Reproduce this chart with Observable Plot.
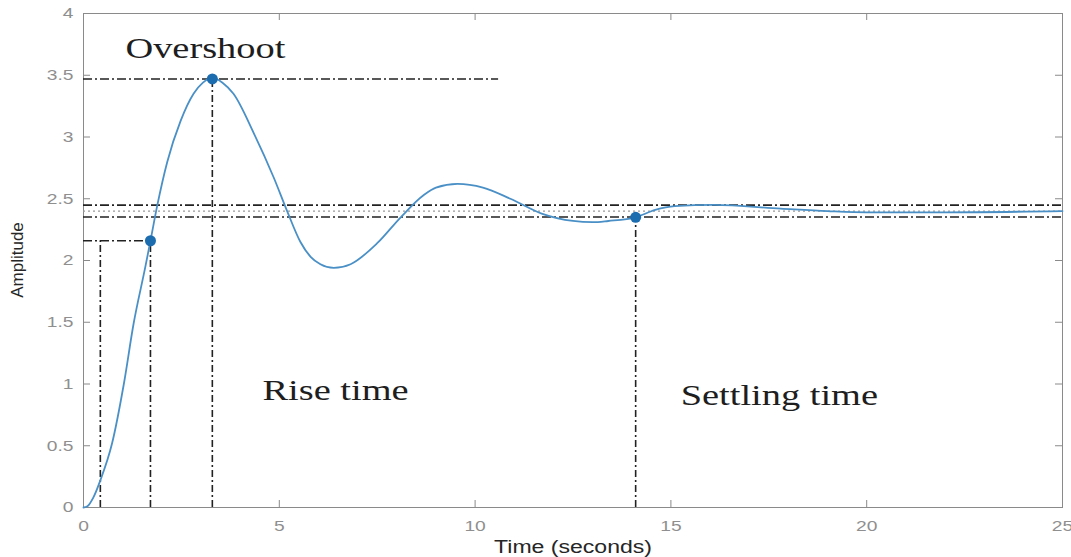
<!DOCTYPE html>
<html><head><meta charset="utf-8">
<script src="https://cdn.jsdelivr.net/npm/d3@7"></script>
<script src="https://cdn.jsdelivr.net/npm/@observablehq/plot@0.6"></script>
<style>body{margin:0;background:#fff}</style>
</head><body><div id="chart"></div>
<script>
// Step response samples
const time =      [0, 0.1, 0.25, 0.43, 0.73, 1.03, 1.28, 1.58, 1.71, 1.88, 2.14, 2.48, 2.81, 3.05, 3.29, 3.55, 3.83, 4.35, 4.86, 5.2, 5.54, 5.8, 6.05, 6.39, 6.82, 7.5, 8.1, 8.69, 9.0, 9.55, 10.2, 10.9, 11.7, 12.5, 13.0, 13.4, 14.1, 14.6, 15.1, 16.1, 17.8, 19, 20, 22, 25];
const amplitude = [0, 0.01, 0.08, 0.22, 0.52, 1.0, 1.49, 1.95, 2.16, 2.44, 2.8, 3.13, 3.35, 3.44, 3.48, 3.44, 3.35, 3.03, 2.67, 2.40, 2.15, 2.03, 1.97, 1.94, 1.97, 2.14, 2.35, 2.53, 2.59, 2.62, 2.59, 2.50, 2.38, 2.32, 2.31, 2.32, 2.35, 2.41, 2.44, 2.45, 2.42, 2.40, 2.39, 2.39, 2.40];

// Characteristic points (rise 90%, peak, settling)
const markerTime = [1.71, 3.29, 14.1];
const markerAmp  = [2.16, 3.47, 2.35];

// Horizontal guide lines
const hGuideY  = [3.47, 2.448, 2.352, 2.16];
const hGuideX1 = [0, 0, 0, 0];
const hGuideX2 = [10.6, 25, 25, 1.71];
// Vertical guide lines
const vGuideX  = [0.43, 1.71, 3.29, 14.1];
const vGuideY2 = [2.16, 2.16, 3.47, 2.35];
// Final (steady-state) value
const finalValue = [2.4];

// Axis ticks
const xTicks = [0, 5, 10, 15, 20, 25];
const xTickLabels = ["0", "5", "10", "15", "20", "25"];
const yTicks = [0, 0.5, 1, 1.5, 2, 2.5, 3, 3.5, 4];
const yTickLabels = ["0", "0.5", "1", "1.5", "2", "2.5", "3", "3.5", "4"];

// Annotations
const annotationText = ["Overshoot", "Rise time", "Settling time"];
const annotationX = [1.07, 4.57, 15.25];
const annotationY = [3.64, 0.87, 0.83];

const curve = time.map((t, i) => ({t, a: amplitude[i]}));
const markers = markerTime.map((t, i) => ({t, a: markerAmp[i]}));
const hIdx = d3.range(hGuideY.length);
const vIdx = d3.range(vGuideX.length);
const aIdx = d3.range(annotationText.length);

const tickLen = -7;

const chart = Plot.plot({
  width: 1071,
  height: 557,
  marginLeft: 83,
  marginRight: 9,
  marginTop: 13,
  marginBottom: 50,
  style: {fontFamily: "'Liberation Sans', Arial, sans-serif", background: "#fff"},
  x: {domain: [0, 25]},
  y: {domain: [0, 4]},
  marks: [
    Plot.frame({stroke: "#8a8a8a", strokeWidth: 1}),
    // inward ticks on all four sides
    Plot.ruleX(xTicks, {x: d => d, y1: 0, y2: 0, insetTop: tickLen, stroke: "#8a8a8a"}),
    Plot.ruleX(xTicks, {x: d => d, y1: 4, y2: 4, insetBottom: tickLen, stroke: "#8a8a8a"}),
    Plot.ruleY(yTicks, {y: d => d, x1: 0, x2: 0, insetRight: tickLen, stroke: "#8a8a8a"}),
    Plot.ruleY(yTicks, {y: d => d, x1: 25, x2: 25, insetLeft: tickLen, stroke: "#8a8a8a"}),
    Plot.axisX({ticks: xTicks, tickSize: 0, tickPadding: 13, tickFormat: d => xTickLabels[xTicks.indexOf(d)],
      fontSize: 15, fill: "#8f8f8f", label: null}),
    Plot.axisY({ticks: yTicks, tickSize: 0, tickPadding: 10, tickFormat: d => yTickLabels[yTicks.indexOf(d)],
      fontSize: 15, fill: "#8f8f8f", label: null}),
    Plot.text(["Time (seconds)"], {x: 12.5, y: 0, frameAnchor: "bottom", dy: 40, fontSize: 18, fill: "#262626", lineAnchor: "middle"}),
    // dotted final value
    Plot.ruleY(finalValue, {y: d => d, x1: 0, x2: 25, stroke: "#9a9a9a", strokeWidth: 1.3, strokeDasharray: "2,3"}),
    // dash-dot guides
    Plot.ruleY(hIdx, {y: i => hGuideY[i], x1: i => hGuideX1[i], x2: i => hGuideX2[i], stroke: "#222", strokeWidth: 1.6, strokeDasharray: "9,3,2,3"}),
    Plot.ruleX(vIdx, {x: i => vGuideX[i], y1: 0, y2: i => vGuideY2[i], stroke: "#222", strokeWidth: 1.6, strokeDasharray: "7,3,2,3"}),
    Plot.line(curve, {x: "t", y: "a", curve: "monotone-x", stroke: "#4a90c6", strokeWidth: 1.8}),
    Plot.dot(markers, {x: "t", y: "a", r: 5.5, fill: "#1c6cb0", stroke: "none"}),
    Plot.text(aIdx, {x: i => annotationX[i], y: i => annotationY[i], text: i => annotationText[i],
      textAnchor: "start", lineAnchor: "bottom", fontSize: 30, fontFamily: "'Liberation Serif', 'Times New Roman', serif", fill: "#1e1e1e"})
  ]
});

const host = document.getElementById("chart");
host.appendChild(chart);

// Amplitude y label (rotated)
const svg = d3.select(chart);
svg.append("text")
  .attr("transform", "translate(19,260) rotate(-90)")
  .attr("text-anchor", "middle")
  .attr("dominant-baseline", "middle")
  .attr("font-size", 17)
  .attr("fill", "#262626")
  .attr("class", "ylabel")
  .text("Amplitude");

// The reference image is horizontally stretched; widen horizontal text accordingly
svg.selectAll("text").each(function() {
  if (this.classList.contains("ylabel")) return;
  const len = this.getComputedTextLength();
  if (len > 0) {
    this.setAttribute("textLength", (len * 1.28).toFixed(1));
    this.setAttribute("lengthAdjust", "spacingAndGlyphs");
  }
});
</script>
</body></html>
